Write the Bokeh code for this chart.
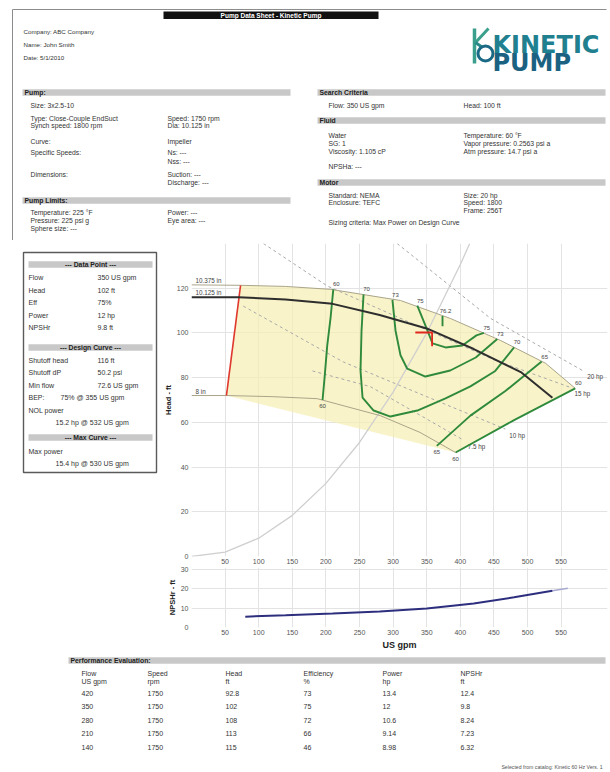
from bokeh.plotting import figure
from bokeh.models import Range1d, FixedTicker
from bokeh.layouts import column, row
from bokeh.embed import file_html
from bokeh.resources import INLINE
from bokeh.core.properties import value

FONT = "Liberation Sans"

# ---------------- header data ----------------
title_text = "Pump Data Sheet - Kinetic Pump"
company_lines = ["Company:  ABC Company", "Name:  John Smith", "Date:  5/1/2010"]
logo_words = ["KINETIC", "PUMP"]
left_sections = ["Pump:", "Pump Limits:"]
right_sections = ["Search Criteria", "Fluid", "Motor"]
pump_left = ["Size:  3x2.5-10", "Type:  Close-Couple EndSuct", "Synch speed:  1800 rpm",
             "Curve:", "Specific Speeds:", "Dimensions:"]
pump_right = ["Speed:  1750 rpm", "Dia:  10.125 in", "Impeller", "Ns:  ---", "Nss:  ---",
              "Suction:  ---", "Discharge:  ---"]
limits_left = ["Temperature:  225 \u00b0F", "Pressure:  225 psi g", "Sphere size:  ---"]
limits_right = ["Power:  ---", "Eye area:  ---"]
search_left = ["Flow:  350 US gpm"]
search_right = ["Head:  100 ft"]
fluid_left = ["Water", "SG:  1", "Viscosity:  1.105 cP", "NPSHa:  ---"]
fluid_right = ["Temperature:  60 \u00b0F", "Vapor pressure:  0.2563 psi a", "Atm pressure:  14.7 psi a"]
motor_left = ["Standard:  NEMA", "Enclosure:  TEFC"]
motor_right = ["Size:  20 hp", "Speed:  1800", "Frame:  256T"]
motor_note = ["Sizing criteria:  Max Power on Design Curve"]

# ---------------- data box ----------------
box_titles = ["--- Data Point ---", "--- Design Curve ---", "--- Max Curve ---"]
dp_labels = ["Flow", "Head", "Eff", "Power", "NPSHr"]
dp_values = ["350 US gpm", "102 ft", "75%", "12 hp", "9.8 ft"]
dc_labels = ["Shutoff head", "Shutoff dP", "Min flow"]
dc_values = ["116 ft", "50.2 psi", "72.6 US gpm"]
bep_label, bep_value = "BEP:", "75% @ 355 US gpm"
nol_label, nol_value = "NOL power", "15.2 hp @ 532 US gpm"
max_label, max_value = "Max power", "15.4 hp @ 530 US gpm"

# ---------------- chart data ----------------
flow_ticks = [50, 100, 150, 200, 250, 300, 350, 400, 450, 500, 550]
head_ticks = [0, 20, 40, 60, 80, 100, 120]
npsh_ticks = [0, 10, 20, 30]

dia_labels = ["10.375 in", "10.125 in", "8 in"]
dia_max_flow = [0, 73, 140, 207, 311, 385, 460, 527, 571]
dia_max_head = [121.5, 121.3, 120.8, 119.5, 114.5, 106.5, 96.6, 86.4, 75.2]
dia_des_flow = [0, 70, 140, 210, 280, 350, 420, 490, 537]
dia_des_head = [116, 116, 115, 113, 108, 102, 92.8, 82.5, 71]
dia_min_flow = [0, 52, 120, 187, 281, 340, 393]
dia_min_head = [72, 72, 71.5, 70.6, 63, 55.5, 46.5]
minflow_flow = [73, 52]
minflow_head = [121.3, 72]

sys_flow = [0, 50, 100, 150, 200, 250, 300, 350, 400, 414]
sys_head = [0, 2, 8.2, 18.4, 32.7, 51, 73.5, 100, 130.6, 140]

power_labels = ["20 hp", "15 hp", "10 hp", "7.5 hp"]
power_flow = [[306, 445, 583], [107, 202, 330, 450, 564], [77, 226, 350, 467], [180, 266, 405]]
power_head = [[140, 106.5, 83], [140, 121, 104, 88, 75.6], [112, 87, 71.5, 57], [83, 76, 52]]

eff_labels = ["60", "70", "73", "75", "76.2", "65", "60"]
eff_flow = [[211, 207, 202, 198, 195],
            [256, 253, 251.5, 254.5, 271, 296, 336, 378, 415, 452, 480],
            [299, 303.6, 311, 321, 348, 385, 423, 455],
            [336, 348, 358.6, 378, 403, 424, 435],
            [373.5, 373.5],
            [365, 415, 467, 521],
            [393, 480, 571]]
eff_head = [[119.5, 107, 94.4, 80, 70],
            [117.2, 101, 83.2, 71.1, 65.3, 62.6, 65.3, 70.7, 76.1, 83, 93.5],
            [114.8, 101, 90, 84, 80.5, 83.2, 89, 97.3],
            [112.2, 103.4, 95.3, 93.5, 94.4, 98.9, 100],
            [107.6, 103],
            [49.5, 63, 74, 87.2],
            [46.5, 61, 75.2]]

marker_flow = [333, 358, 358]
marker_head = [100.2, 100.2, 94]

npsh_flow = [80, 140, 210, 280, 350, 420, 480, 537]
npsh_val = [5.6, 6.32, 7.23, 8.24, 9.8, 12.4, 15.6, 19]
npsh_ext_flow = [537, 560]
npsh_ext_val = [19, 20.3]

# ---------------- table data ----------------
table_title = "Performance Evaluation:"
table_headers = ["Flow", "Speed", "Head", "Efficiency", "Power", "NPSHr"]
table_units = ["US gpm", "rpm", "ft", "%", "hp", "ft"]
perf_flow = [420, 350, 280, 210, 140]
perf_speed = [1750, 1750, 1750, 1750, 1750]
perf_head = [92.8, 102, 108, 113, 115]
perf_eff = [73, 75, 72, 66, 46]
perf_power = [13.4, 12, 10.6, 9.14, 8.98]
perf_npsh = [12.4, 9.8, 8.24, 7.23, 6.32]
footer = "Selected from catalog: Kinetic 60 Hz   Vers. 1"


# ---------------- helpers ----------------
def put_text(p, xs, ys, texts, size="6.8px", color="#333333", bold=False,
             align="left", baseline="middle", font=FONT, xo=0, yo=0):
    p.text(x=list(xs), y=list(ys), text=list(texts), text_font=value(font),
           text_font_size=size, text_color=color,
           text_font_style="bold" if bold else "normal",
           text_align=align, text_baseline=baseline, x_offset=xo, y_offset=yo)


def canvas(w, h, x0, x1, y_top, y_bot):
    p = figure(width=w, height=h, x_range=Range1d(x0, x1), y_range=Range1d(y_bot, y_top),
               output_backend="svg", toolbar_location=None,
               x_axis_location=None, y_axis_location=None,
               min_border_left=0, min_border_right=0, min_border_top=0, min_border_bottom=0)
    p.grid.visible = False
    p.outline_line_color = None
    p.background_fill_color = "white"
    return p


def bar(p, x0, x1, yc, label, bold=True, center=False):
    p.quad(left=[x0], right=[x1], top=[yc - 3.2], bottom=[yc + 3.2],
           fill_color="#c8c8c8", line_color=None)
    if center:
        put_text(p, [(x0 + x1) / 2], [yc], [label], size="6.8px", bold=bold, align="center",
                 color="#222222")
    else:
        put_text(p, [x0 + 2], [yc], [label], size="6.8px", bold=bold, color="#222222")


def rows(p, x, ys, texts, size="6.8px"):
    put_text(p, [x] * len(texts), ys[:len(texts)], texts, size=size)


# ---------------- header ----------------
header = canvas(608, 240, 0, 608, 0, 240)
header.segment(x0=[12, 12], y0=[9, 9], x1=[606, 12], y1=[9, 240], line_color="#8c8c8c", line_width=1)
header.quad(left=[163], right=[378], top=[11], bottom=[18.5], fill_color="#111111", line_color=None)
put_text(header, [270.5], [14.8], [title_text], size="6.5px", color="white", bold=True, align="center")
rows(header, 23, [31, 44, 57], company_lines, size="6.2px")

# logo
header.line(x=[474, 474], y=[28, 63], line_color="#3a9f8c", line_width=3.5)
header.line(x=[475, 488], y=[42, 28], line_color="#3a9f8c", line_width=3)
header.line(x=[475, 482], y=[42, 47], line_color="#2a8a8a", line_width=3)
header.scatter(x=[485], y=[53], size=15, marker="circle", fill_color=None,
               line_color="#1b6a85", line_width=3)
put_text(header, [492], [44], [logo_words[0]], size="24px", color="#21808f", bold=True,
         baseline="alphabetic", font="DejaVu Sans")
put_text(header, [492], [62], [logo_words[1]], size="24px", color="#1b6282", bold=True,
         baseline="alphabetic", font="DejaVu Sans")

bar(header, 22, 290, 92, left_sections[0])
bar(header, 22, 290, 200, left_sections[1])
bar(header, 317, 605, 92, right_sections[0])
bar(header, 317, 605, 120, right_sections[1])
bar(header, 317, 605, 182, right_sections[2])

rows(header, 30, [105, 118, 125, 141, 152, 174], pump_left)
rows(header, 167, [118, 125, 141, 152, 161, 174, 182], pump_right)
rows(header, 30, [212, 220, 228], limits_left)
rows(header, 167, [212, 220], limits_right)
rows(header, 328, [105], search_left)
rows(header, 463, [105], search_right)
rows(header, 328, [135, 143, 151, 166], fluid_left)
rows(header, 463, [135, 143, 151], fluid_right)
rows(header, 328, [195, 202], motor_left)
rows(header, 463, [195, 202, 210], motor_right)
rows(header, 328, [222], motor_note)

# ---------------- left data box ----------------
left = canvas(160, 412, 0, 160, 240, 652)
left.quad(left=[23], right=[156], top=[252], bottom=[472], fill_color="white",
          line_color="#5a5a5a", line_width=1.4)
for yc, t in zip([264, 347, 437], box_titles):
    bar(left, 28, 152, yc, t, bold=True, center=True)
dp_y = [277 + 12.6 * i for i in range(len(dp_labels))]
rows(left, 28, dp_y, dp_labels, size="7px")
rows(left, 97, dp_y, dp_values, size="7px")
dc_y = [359.5 + 12.5 * i for i in range(len(dc_labels))]
rows(left, 28, dc_y, dc_labels, size="7px")
rows(left, 97, dc_y, dc_values, size="7px")
rows(left, 28, [397], [bep_label], size="7px")
rows(left, 60, [397], [bep_value], size="7px")
rows(left, 28, [409.5], [nol_label], size="7px")
rows(left, 55, [421.5], [nol_value], size="7px")
rows(left, 28, [451], [max_label], size="7px")
rows(left, 55, [463], [max_value], size="7px")


# ---------------- axis styling ----------------
def style_axes(p, ylabel, xlabel=None):
    p.outline_line_color = None
    for ax in (p.xaxis[0], p.yaxis[0]):
        ax.axis_line_color = None
        ax.major_tick_line_color = None
        ax.minor_tick_line_color = None
        ax.major_tick_out = 0
        ax.major_tick_in = 0
        ax.minor_tick_out = 0
        ax.minor_tick_in = 0
        ax.major_label_text_font = FONT
        ax.major_label_text_font_size = "7px"
        ax.major_label_text_color = "#555555"
        ax.axis_label_text_font = FONT
        ax.axis_label_text_font_style = "bold"
        ax.axis_label_text_color = "#222222"
    p.xaxis.major_label_standoff = 2
    p.yaxis.major_label_standoff = 3
    p.yaxis.axis_label = ylabel
    p.yaxis.axis_label_text_font_size = "7.5px"
    p.yaxis.axis_label_standoff = 1
    if xlabel:
        p.xaxis.axis_label = xlabel
        p.xaxis.axis_label_text_font_size = "9px"
        p.xaxis.axis_label_standoff = 2
    p.grid.grid_line_color = "#e3e3e3"
    p.grid.grid_line_width = 1


# ---------------- main performance chart ----------------
main = figure(width=448, height=326, x_range=Range1d(0, 619), y_range=Range1d(0, 140),
              output_backend="svg", toolbar_location=None,
              min_border_left=31, min_border_right=1, min_border_top=3, min_border_bottom=10)
main.xaxis.ticker = FixedTicker(ticks=flow_ticks)
main.yaxis.ticker = FixedTicker(ticks=head_ticks)
style_axes(main, "Head - ft")

# operating region fill
e60r_f, e60r_h = eff_flow[-1], eff_head[-1]
fill_x = dia_max_flow[1:] + e60r_f[::-1][1:] + [dia_min_flow[1]]
fill_y = dia_max_head[1:] + e60r_h[::-1][1:] + [dia_min_head[1]]
main.patch(fill_x, fill_y, fill_color="#f7efb4", fill_alpha=0.72, line_color=None)

# power lines
for fl, hd in zip(power_flow, power_head):
    main.line(fl, hd, line_color="#a9a9a9", line_width=1, line_dash="3 3")
for lab, fl, hd in zip(power_labels, power_flow, power_head):
    put_text(main, [fl[-1]], [hd[-1]], [lab], size="6.3px", color="#444444", xo=4, yo=6)

# system curve
main.line(sys_flow, sys_head, line_color="#cfcfcf", line_width=1.3)

# diameter curves
main.line(dia_max_flow, dia_max_head, line_color="#aaa58a", line_width=1)
main.line(dia_min_flow, dia_min_head, line_color="#aaa58a", line_width=1)
main.line(minflow_flow, minflow_head, line_color="#e0382e", line_width=1.6)

# efficiency contours
for fl, hd in zip(eff_flow, eff_head):
    main.line(fl, hd, line_color="#2f8a3c", line_width=1.9)

main.line(dia_des_flow, dia_des_head, line_color="#2e2e2e", line_width=2)

# diameter labels
put_text(main, [dia_max_flow[0] + 6], [dia_max_head[0]], [dia_labels[0]], size="6.3px",
         color="#444444", baseline="bottom", yo=-1)
put_text(main, [dia_des_flow[0] + 6], [dia_des_head[0]], [dia_labels[1]], size="6.3px",
         color="#444444", baseline="bottom", yo=-1)
put_text(main, [dia_min_flow[0] + 6], [dia_min_head[0]], [dia_labels[2]], size="6.3px",
         color="#444444", baseline="bottom", yo=-1)

# efficiency labels: (start side, end side); -1 above, +1 below, 0 none
label_sides = [(-1, 1), (-1, -1), (-1, -1), (-1, -1), (-1, 0), (1, -1), (1, -1)]
for lab, fl, hd, (s0, s1) in zip(eff_labels, eff_flow, eff_head, label_sides):
    for side, xv, yv in ((s0, fl[0], hd[0]), (s1, fl[-1], hd[-1])):
        if side == 0:
            continue
        put_text(main, [xv], [yv], [lab], size="6px", color="#444444", align="center",
                 baseline="middle", xo=3 if side < 0 else 0, yo=-5 if side < 0 else 6)

# design point marker
main.line(marker_flow, marker_head, line_color="#e0281e", line_width=1.8)

# ---------------- NPSH chart ----------------
npsh = figure(width=448, height=86, x_range=Range1d(0, 619), y_range=Range1d(0, 31),
              output_backend="svg", toolbar_location=None,
              min_border_left=31, min_border_right=1, min_border_top=1, min_border_bottom=23)
npsh.xaxis.ticker = FixedTicker(ticks=flow_ticks)
npsh.yaxis.ticker = FixedTicker(ticks=npsh_ticks)
style_axes(npsh, "NPSHr - ft", "US gpm")
npsh.line(npsh_ext_flow, npsh_ext_val, line_color="#a6a8d0", line_width=1.5)
npsh.line(npsh_flow, npsh_val, line_color="#2d2f7e", line_width=2)

# ---------------- table ----------------
table = canvas(608, 118, 0, 608, 652, 770)
bar(table, 68, 605, 660, table_title)
col_x = [81, 147, 225, 303, 382, 460]
rows_y = [693 + 13.4 * i for i in range(len(perf_flow))]
for cx, h, u in zip(col_x, table_headers, table_units):
    put_text(table, [cx], [673], [h], size="7px")
    put_text(table, [cx], [681], [u], size="7px")
columns = [perf_flow, perf_speed, perf_head, perf_eff, perf_power, perf_npsh]
for cx, colvals in zip(col_x, columns):
    put_text(table, [cx] * len(colvals), rows_y, [f"{v:g}" for v in colvals], size="7px")
put_text(table, [605], [766], [footer], size="5.2px", color="#555555", align="right")

layout = column(header, row(left, column(main, npsh)), table)

with open("out.html", "w", encoding="utf-8") as f:
    f.write(file_html(layout, INLINE))
